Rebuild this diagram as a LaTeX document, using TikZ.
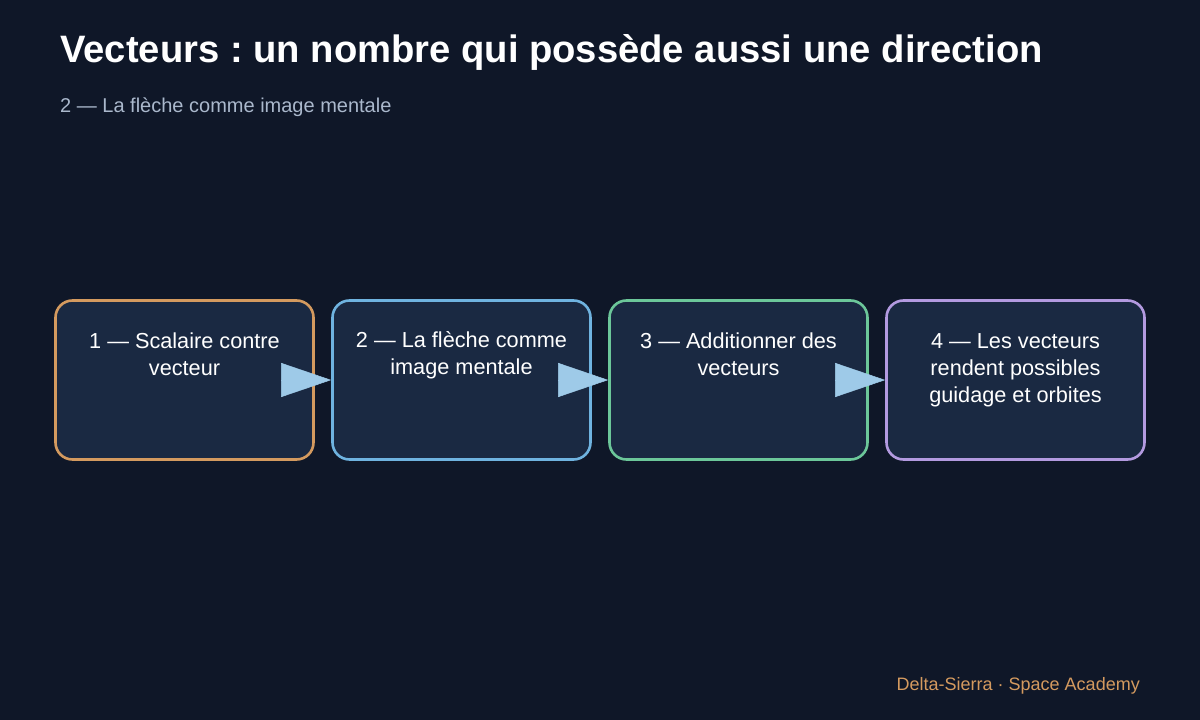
\documentclass[tikz,border=0pt]{standalone}
\usepackage{fontspec}
\setmainfont{Liberation Sans}
\usetikzlibrary{arrows.meta}
\definecolor{bg}{HTML}{0F1728}
\definecolor{boxfill}{HTML}{1A2942}
\definecolor{cOrange}{HTML}{D49A5F}
\definecolor{cBlue}{HTML}{6FB3E0}
\definecolor{cGreen}{HTML}{6CC79A}
\definecolor{cPurple}{HTML}{B39AE0}
\definecolor{arrowc}{HTML}{9ECAE8}
\definecolor{subc}{HTML}{AAB8CC}
\frenchspacing
\begin{document}
\begin{tikzpicture}[x=1pt,y=-1pt,
  stepbox/.style={draw, line width=2.6pt, fill=boxfill, rounded corners=17pt, minimum width=258pt, minimum height=159pt, inner sep=0pt},
  steptext/.style={anchor=north, text=white, align=center, font=\fontsize{21.7}{27}\selectfont, inner sep=0pt},
  flow/.style={draw=arrowc, line width=0.5pt, -{Triangle[length=50pt,width=34pt,fill=arrowc]}}]
\fill[bg] (0,0) rectangle (1200,720);
\useasboundingbox (0,0) rectangle (1200,720);
\node[anchor=base west, inner sep=0pt, text=white, font=\fontsize{38.2}{44}\selectfont\bfseries] (title) at (60,62) {Vecteurs : un nombre qui possède aussi une direction};
\node[anchor=base west, inner sep=0pt, text=subc, font=\fontsize{20}{24}\selectfont] (sub) at (60,112) {2 — La flèche comme image mentale};
\node[stepbox, draw=cOrange] (b1) at (184.5,380) {};
\node[stepbox, draw=cBlue] (b2) at (461.5,380) {};
\node[stepbox, draw=cGreen] (b3) at (738.5,380) {};
\node[stepbox, draw=cPurple] (b4) at (1015.5,380) {};
\node[steptext] (t1) at (184.5,333) {1 — Scalaire contre\\vecteur};
\node[steptext] (t2) at (461.5,331.5) {2 — La flèche comme\\image mentale};
\node[steptext] (t3) at (738.5,333) {3 — Additionner des\\vecteurs};
\node[steptext] (t4) at (1015.5,333) {4 — Les vecteurs\\rendent possibles\\guidage et orbites};
\draw[flow] (b1.east) -- (b2.west);
\draw[flow] (b2.east) -- (b3.west);
\draw[flow] (b3.east) -- (b4.west);
\node[anchor=base east, inner sep=0pt, text=cOrange, font=\fontsize{18}{22}\selectfont] (foot) at (1140,690) {Delta-Sierra · Space Academy};
\end{tikzpicture}
\end{document}
